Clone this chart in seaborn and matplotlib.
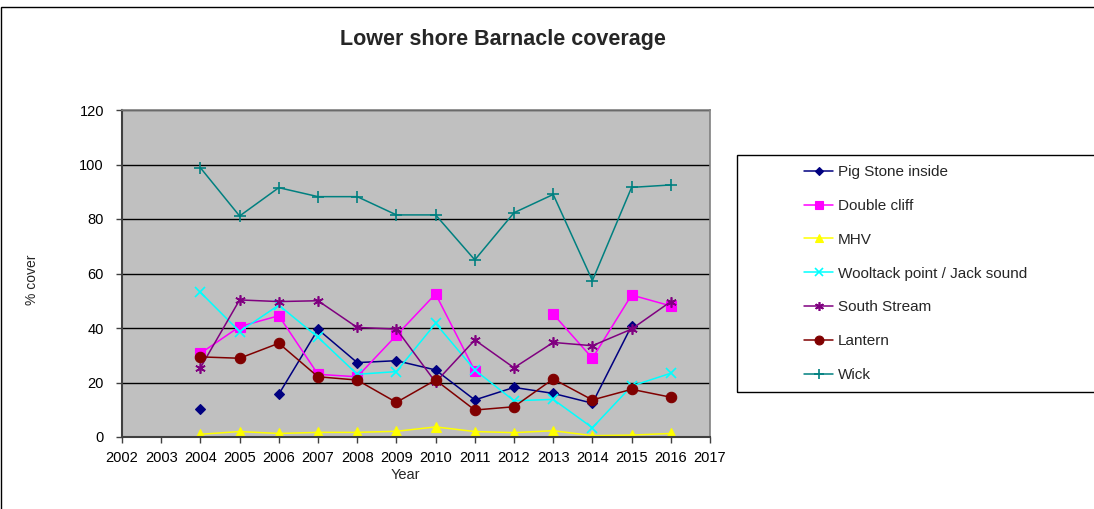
import numpy as np
import pandas as pd
import matplotlib
matplotlib.use("Agg")
import matplotlib.pyplot as plt
from matplotlib.lines import Line2D
from matplotlib.patches import Rectangle
import seaborn as sns

# data
years = list(range(2004, 2017))
pig_stone = [10.3, np.nan, 15.7, 39.5, 27.3, 28.0, 24.6, 13.6, 18.2, 16.0, 12.4, 40.8, np.nan]
double_cliff = [30.7, 40.5, 44.5, 23.0, 22.1, 37.3, 52.5, 24.3, np.nan, 45.1, 28.9, 52.1, 48.1]
mhv = [1.0, 2.0, 1.3, 1.7, 1.7, 2.1, 3.7, 2.0, 1.6, 2.3, 0.5, 0.7, 1.3]
wooltack = [53.1, 38.7, 48.4, 36.6, 23.0, 24.0, 41.7, 24.6, 13.3, 13.8, 3.4, 18.7, 23.4]
south_stream = [25.4, 50.3, 49.7, 50.0, 40.2, 39.6, 20.1, 35.6, 25.4, 34.7, 33.5, 39.6, 49.7]
lantern = [29.4, 28.9, 34.4, 22.1, 20.9, 12.7, 20.9, 9.9, 11.1, 21.3, 13.6, 17.5, 14.6]
wick = [98.8, 81.1, 91.5, 88.2, 88.2, 81.5, 81.5, 65.0, 82.3, 89.0, 57.4, 91.6, 92.5]

sites = ["Pig Stone inside", "Double cliff", "MHV", "Wooltack point / Jack sound",
         "South Stream", "Lantern", "Wick"]
values = [pig_stone, double_cliff, mhv, wooltack, south_stream, lantern, wick]
colors = ["#000080", "#FF00FF", "#FFFF00", "#00FFFF", "#800080", "#800000", "#008080"]
markers = ["D", "s", "^", "x", (6, 2, 0), "o", "+"]
msizes = [5, 6.5, 7.5, 7.5, 7.5, 7.5, 8]

W, H = 1094, 509
FONT = ["Liberation Sans", "DejaVu Sans"]

sns.set_theme(style="white")
plt.rcParams["font.family"] = FONT

fig = plt.figure(figsize=(W / 100, H / 100), dpi=100)
ax = fig.add_axes([122 / W, (H - 437) / H, (710 - 122) / W, (437 - 110) / H])
ax.set_facecolor("#C0C0C0")

handles = []
for site, vals, col, mk, ms in zip(sites, values, colors, markers, msizes):
    df = pd.DataFrame({"Year": years, "cover": vals})
    # split into segments wherever a year is missing, so gaps are not bridged
    df["seg"] = df["cover"].isna().cumsum()
    df = df.dropna()
    filled = not isinstance(mk, tuple) and mk not in ("x", "+")
    sns.lineplot(data=df, x="Year", y="cover", units="seg", estimator=None,
                 color=col, marker=mk, markersize=ms, linewidth=1.1,
                 markeredgecolor=col, markerfacecolor=col,
                 markeredgewidth=0.8 if filled else 1.2, ax=ax, legend=False)
    handles.append(Line2D([], [], color=col, marker=mk, markersize=ms * 0.85,
                          markeredgecolor=col, markerfacecolor=col,
                          markeredgewidth=0.8 if filled else 1.2, linewidth=1.1))

ax.set_xlim(2002, 2017)
ax.set_ylim(0, 120)
ax.set_xticks(range(2002, 2018))
ax.set_yticks(range(0, 121, 20))
ax.yaxis.grid(True, color="black", linewidth=1)
ax.set_axisbelow(True)
ax.set_xlabel("")
ax.set_ylabel("")
for side in ["left", "bottom"]:
    ax.spines[side].set_color("#404040")
    ax.spines[side].set_linewidth(1.5)
for side in ["top", "right"]:
    ax.spines[side].set_color("#808080")
    ax.spines[side].set_linewidth(1.2)
ax.tick_params(axis="both", direction="out", length=4, width=1, color="#404040",
               labelsize=10.5, labelcolor="black")
ax.tick_params(axis="x", pad=6)
ax.tick_params(axis="y", pad=9)
ax.tick_params(bottom=True, left=True)

fig.text(503 / W, 1 - 40 / H, "Lower shore Barnacle coverage", ha="center", va="center",
         fontsize=15.5, fontweight="bold")
fig.text(32 / W, 1 - 280 / H, "% cover", rotation=90, ha="center", va="center", fontsize=10)
fig.text(405 / W, 1 - 475 / H, "Year", ha="center", va="center", fontsize=10.5)

# legend box and outer chart border
fig.patches.append(Rectangle((737 / W, (H - 392) / H), 400 / W, (392 - 155) / H,
                             transform=fig.transFigure, fill=False, edgecolor="black",
                             linewidth=1))
fig.patches.append(Rectangle((1 / W, -0.2), 1.5, (H - 7) / H + 0.2,
                             transform=fig.transFigure, fill=False, edgecolor="black",
                             linewidth=1))

fig.legend(handles, sites, loc="upper left", bbox_to_anchor=(804 / W, 1 - 165 / H),
           frameon=False, borderpad=0, borderaxespad=0, handlelength=1.9,
           handletextpad=0.3, labelspacing=1.3, fontsize=11)

fig.savefig("out.png", dpi=100)
